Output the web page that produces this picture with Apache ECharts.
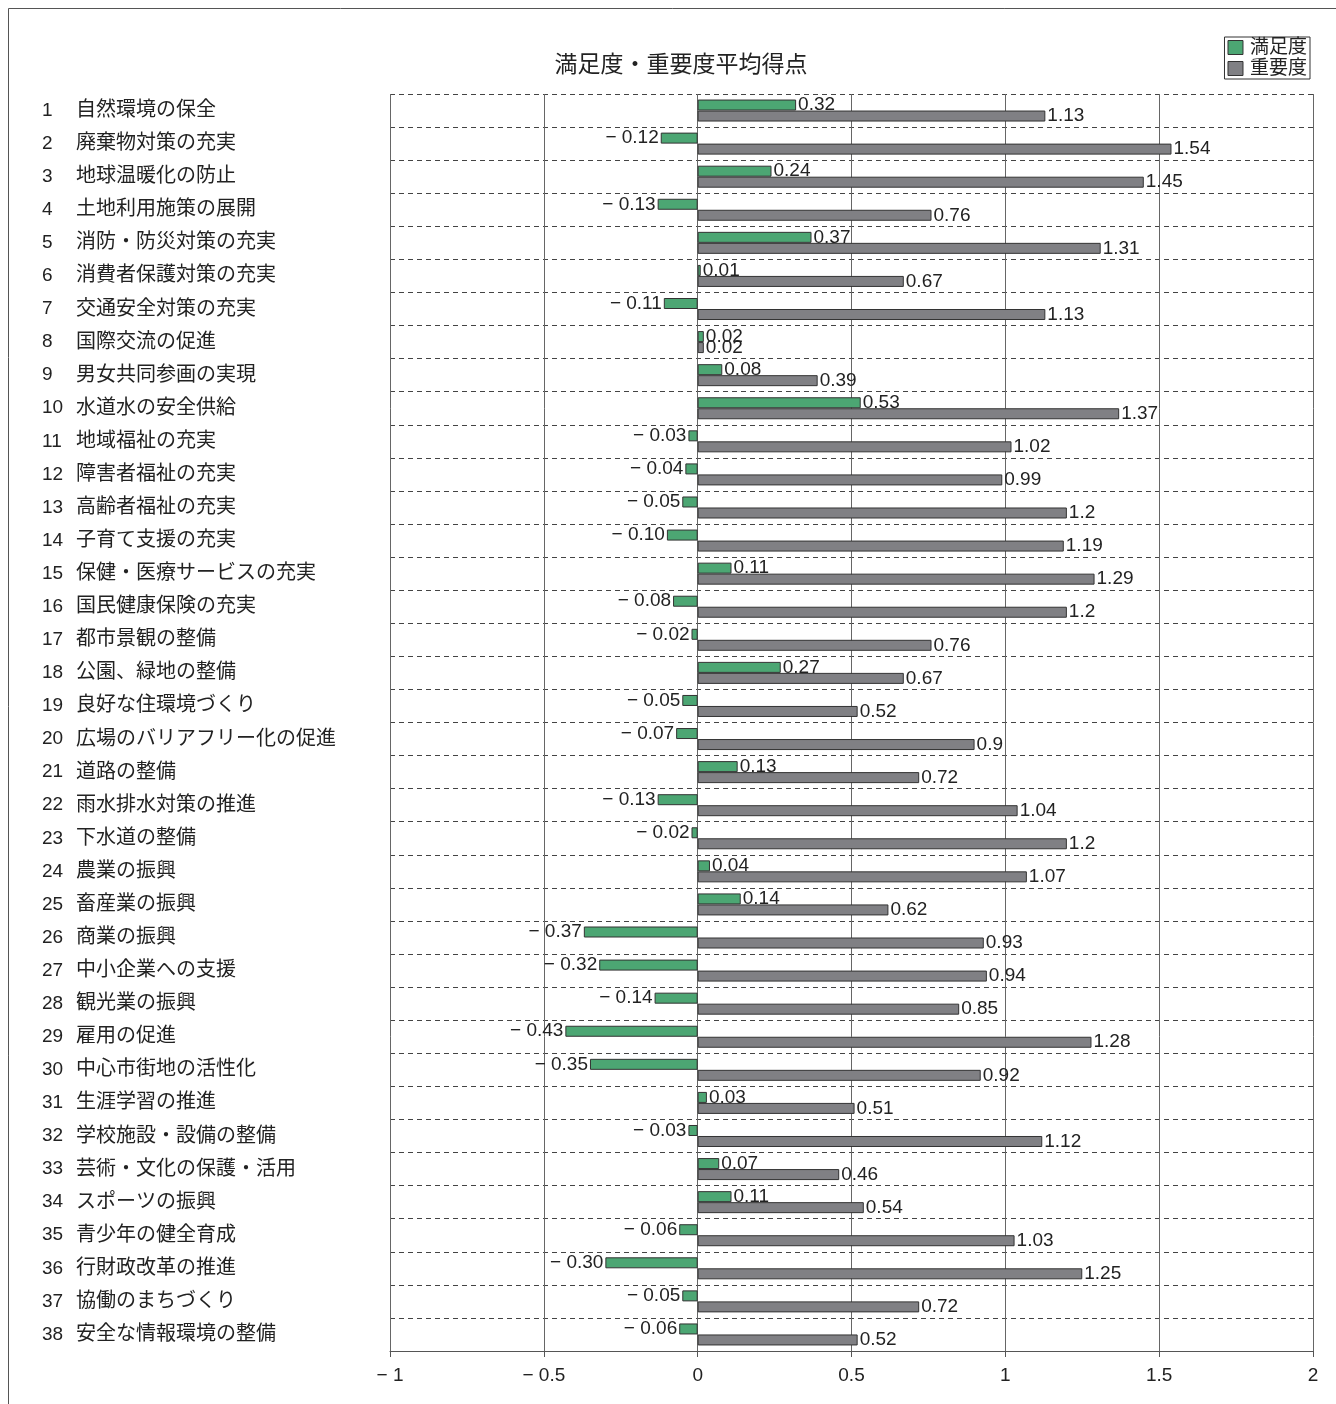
<!DOCTYPE html>
<html>
<head>
<meta charset="utf-8">
<script src="https://cdn.jsdelivr.net/npm/echarts@6/dist/echarts.min.js"></script>
<style>
  html, body { margin: 0; padding: 0; background: #fff; }
  #main { width: 1336px; height: 1404px; }
</style>
</head>
<body>
<div id="main"></div>
<script>
const categories = [
  '自然環境の保全', '廃棄物対策の充実', '地球温暖化の防止', '土地利用施策の展開',
  '消防・防災対策の充実', '消費者保護対策の充実', '交通安全対策の充実', '国際交流の促進',
  '男女共同参画の実現', '水道水の安全供給', '地域福祉の充実', '障害者福祉の充実',
  '高齢者福祉の充実', '子育て支援の充実', '保健・医療サービスの充実', '国民健康保険の充実',
  '都市景観の整備', '公園、緑地の整備', '良好な住環境づくり', '広場のバリアフリー化の促進',
  '道路の整備', '雨水排水対策の推進', '下水道の整備', '農業の振興',
  '畜産業の振興', '商業の振興', '中小企業への支援', '観光業の振興',
  '雇用の促進', '中心市街地の活性化', '生涯学習の推進', '学校施設・設備の整備',
  '芸術・文化の保護・活用', 'スポーツの振興', '青少年の健全育成', '行財政改革の推進',
  '協働のまちづくり', '安全な情報環境の整備'
];
const satisfaction = [
  0.32, -0.12, 0.24, -0.13, 0.37, 0.01, -0.11, 0.02, 0.08, 0.53,
  -0.03, -0.04, -0.05, -0.10, 0.11, -0.08, -0.02, 0.27, -0.05, -0.07,
  0.13, -0.13, -0.02, 0.04, 0.14, -0.37, -0.32, -0.14, -0.43, -0.35,
  0.03, -0.03, 0.07, 0.11, -0.06, -0.30, -0.05, -0.06
];
const importance = [
  1.13, 1.54, 1.45, 0.76, 1.31, 0.67, 1.13, 0.02, 0.39, 1.37,
  1.02, 0.99, 1.2, 1.19, 1.29, 1.2, 0.76, 0.67, 0.52, 0.9,
  0.72, 1.04, 1.2, 1.07, 0.62, 0.93, 0.94, 0.85, 1.28, 0.92,
  0.51, 1.12, 0.46, 0.54, 1.03, 1.25, 0.72, 0.52
];
const seriesNames = ['満足度', '重要度'];

const FONT = '"Liberation Sans", "Noto Sans CJK JP", sans-serif';

function minusFmt(v, digits) {
  const s = digits ? Math.abs(v).toFixed(digits) : String(Math.abs(v));
  return v < 0 ? '− ' + s : s;
}

const chart = echarts.init(document.getElementById('main'));

const option = {
  backgroundColor: '#fff',
  animation: false,
  textStyle: { fontFamily: FONT },
  graphic: [{
    type: 'rect',
    shape: { x: 8.5, y: 8.5, width: 1400, height: 1500 },
    style: { fill: 'none', stroke: '#555', lineWidth: 1 },
    silent: true
  }],
  title: {
    text: '満足度・重要度平均得点',
    left: 676,
    textAlign: 'center',
    top: 49,
    textStyle: { fontSize: 23, fontWeight: 'normal', color: '#222', fontFamily: FONT }
  },
  legend: {
    data: seriesNames,
    orient: 'vertical',
    right: 26,
    top: 37,
    itemWidth: 15,
    itemHeight: 14,
    itemGap: 2,
    padding: [1, 3, 1, 3],
    borderColor: '#333',
    borderWidth: 1,
    borderRadius: 0,
    icon: 'rect',
    itemStyle: { borderColor: '#333', borderWidth: 1 },
    textStyle: { fontSize: 19, color: '#222', padding: [0, 0, 0, 2] }
  },
  grid: { left: 390, right: 23, top: 94, bottom: 53, containLabel: false },
  xAxis: {
    type: 'value',
    min: -1,
    max: 2,
    interval: 0.5,
    axisLine: { show: true, lineStyle: { color: '#555', width: 1 } },
    axisTick: { show: true, length: 6, lineStyle: { color: '#555' } },
    axisLabel: {
      fontSize: 19,
      color: '#222',
      margin: 15,
      formatter: v => minusFmt(v)
    },
    splitLine: { show: true, lineStyle: { color: '#666', width: 1 } }
  },
  yAxis: {
    type: 'category',
    inverse: true,
    data: categories,
    axisLine: { show: false },
    axisTick: { show: false },
    axisLabel: {
      align: 'left',
      margin: 348,
      formatter: (v, i) => '{n|' + (i + 1) + '}{t|' + v + '}',
      rich: {
        n: { width: 34, fontSize: 19, color: '#222', fontFamily: FONT },
        t: { fontSize: 20, color: '#222', fontFamily: FONT }
      }
    },
    splitLine: { show: true, lineStyle: { color: '#444', type: [5, 4], width: 1 } }
  },
  series: [
    {
      name: seriesNames[0],
      type: 'bar',
      data: satisfaction.map(v => ({
        value: v,
        label: { position: v < 0 ? 'left' : 'right' }
      })),
      barWidth: 11,
      barGap: '0%',
      itemStyle: { color: '#4ca673', borderColor: '#333', borderWidth: 1 },
      label: {
        show: true,
        fontSize: 19,
        color: '#222',
        distance: 2,
        position: 'right',
        formatter: p => minusFmt(p.value, 2)
      }
    },
    {
      name: seriesNames[1],
      type: 'bar',
      data: importance,
      barWidth: 11,
      itemStyle: { color: '#808084', borderColor: '#333', borderWidth: 1 },
      label: {
        show: true,
        position: 'right',
        fontSize: 19,
        color: '#222',
        distance: 2,
        formatter: p => String(p.value)
      }
    }
  ]
};

chart.setOption(option);
</script>
</body>
</html>
